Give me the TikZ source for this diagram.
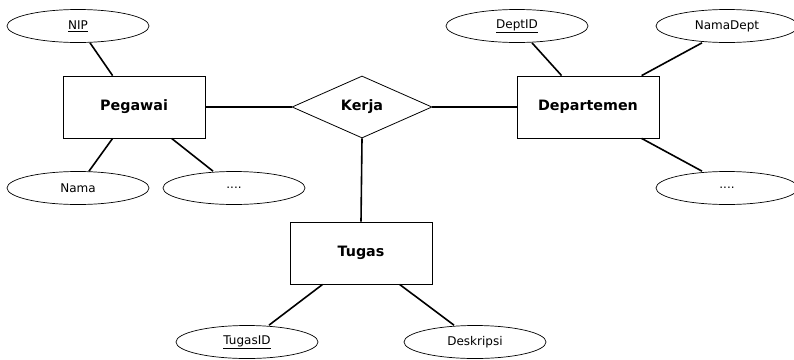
\documentclass[tikz,border=0pt]{standalone}
\usepackage{fontspec}
\setmainfont{DejaVu Sans}
\usetikzlibrary{shapes.geometric}
\begin{document}
\begin{tikzpicture}[x=1pt,y=1pt,
  entity/.style={draw, line width=0.8pt, rectangle, minimum width=142pt, minimum height=62pt,
                 inner sep=0pt, font=\fontsize{14.3}{17}\selectfont\bfseries},
  relation/.style={draw, line width=0.8pt, diamond, shape aspect=2.26, minimum width=140pt,
                   minimum height=62pt, inner sep=0pt, font=\fontsize{14.3}{17}\selectfont\bfseries},
  attr/.style={draw, line width=0.7pt, ellipse, minimum width=142pt, minimum height=33pt,
               inner sep=0pt, font=\fontsize{12}{14}\selectfont},
  link/.style={line width=1.6pt}]
\useasboundingbox (0,0) rectangle (794,-359);

% entities and relationship
\node[entity]   (peg)   at (134,-107) {Pegawai};
\node[relation] (kerja) at (362,-107) {Kerja};
\node[entity]   (dept)  at (588,-107) {Departemen};
\node[entity]   (tugas) at (361,-253) {Tugas};

% attributes
\node[attr] (nip)       at (78,-26)   {\underline{NIP}};
\node[attr] (nama)      at (78,-188)  {Nama};
\node[attr] (pegmore)   at (234,-188) {....};
\node[attr] (deptid)    at (517,-26)  {\underline{DeptID}};
\node[attr] (namadept)  at (727,-26)  {NamaDept};
\node[attr] (deptmore)  at (727,-188) {....};
\node[attr] (tugasid)   at (247,-342) {\underline{TugasID}};
\node[attr] (deskripsi) at (475,-342) {Deskripsi};

% relationship links
\draw[link] (peg.east) -- (kerja.west);
\draw[link] (kerja.east) -- (dept.west);
\draw[link] (kerja.south) -- (tugas.north);

% attribute links
\draw[link] ([xshift=12pt]nip.south) -- ([xshift=50pt]peg.north west);
\draw[link] ([xshift=50pt]peg.south west) -- ([xshift=11pt]nama.north);
\draw[link] ([xshift=109pt]peg.south west) -- ([xshift=-21pt]pegmore.north);
\draw[link] ([xshift=15pt]deptid.south) -- ([xshift=45pt]dept.north west);
\draw[link] ([xshift=-25pt]namadept.south) -- ([xshift=125pt]dept.north west);
\draw[link] ([xshift=125pt]dept.south west) -- ([xshift=-25pt]deptmore.north);
\draw[link] ([xshift=33pt]tugas.south west) -- ([xshift=22pt]tugasid.north);
\draw[link] ([xshift=110pt]tugas.south west) -- ([xshift=-21pt]deskripsi.north);
\end{tikzpicture}
\end{document}
